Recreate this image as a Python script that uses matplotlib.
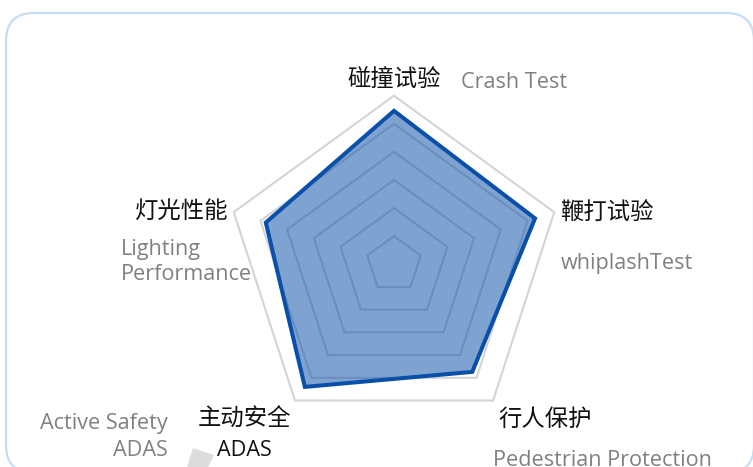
import numpy as np
import matplotlib
matplotlib.use('Agg')
import matplotlib.pyplot as plt
from matplotlib.patches import FancyBboxPatch, Polygon

plt.rcParams['font.family'] = ['Open Sans', 'Noto Sans CJK SC', 'DejaVu Sans']

# Radar data (score out of 100)
labels_cn = ['碰撞试验', '鞭打试验', '行人保护', '主动安全', '灯光性能']
labels_en = ['Crash Test', 'whiplashTest', 'Pedestrian Protection', 'ADAS', 'Lighting\nPerformance']
values = [91, 88, 79, 90, 80]
max_value = 100
n_levels = 6

LINE_COLOR = '#0a4fa8'
FILL_COLOR = '#0a4fa8'
GRID_COLOR = '#d4d4d4'
CN_COLOR = '#111111'
EN_COLOR = '#808080'

W, H = 753, 467
fig = plt.figure(figsize=(W / 100, H / 100), dpi=100)
ax = fig.add_axes([0, 0, 1, 1])
ax.set_xlim(0, W)
ax.set_ylim(H, 0)
ax.set_aspect('equal')
ax.axis('off')

# rounded card border
card = FancyBboxPatch((6, 13), 748, 460, boxstyle='round,pad=0,rounding_size=28',
                      fc='white', ec='#c6ddf2', lw=1.6, zorder=0)
ax.add_patch(card)

cx, cy = 394, 264.2
radius = 168.5
n = len(values)
angles = np.pi / 2 - np.arange(n) * 2 * np.pi / n


def to_xy(r):
    r = np.asarray(r, dtype=float)
    return cx + r * np.cos(angles), cy - r * np.sin(angles)


# grid pentagons
for lvl in range(1, n_levels + 1):
    gx, gy = to_xy(np.full(n, radius * lvl / n_levels))
    ax.add_patch(Polygon(np.column_stack([gx, gy]), closed=True, fill=False,
                         ec=GRID_COLOR, lw=1.5, zorder=1))

# data polygon
dx, dy = to_xy(np.array(values) / max_value * radius)
pts = np.column_stack([dx, dy])
ax.add_patch(Polygon(pts, closed=True, fc=FILL_COLOR, alpha=0.52, ec='none', zorder=2))
ax.add_patch(Polygon(pts, closed=True, fill=False, ec=LINE_COLOR, lw=2.9,
                     joinstyle='miter', zorder=3))

cn_fs = 16.8
en_fs = 15.6
dy_txt = 2  # baseline nudge

# labels
ax.text(394, 78 + dy_txt, labels_cn[0], fontsize=cn_fs, color=CN_COLOR, ha='center', va='center')
ax.text(461, 81 + dy_txt, labels_en[0], fontsize=en_fs, color=EN_COLOR, ha='left', va='center')

ax.text(560, 212 + dy_txt, labels_cn[1], fontsize=cn_fs, color=CN_COLOR, ha='left', va='center')
ax.text(561, 262 + dy_txt, labels_en[1], fontsize=en_fs, color=EN_COLOR, ha='left', va='center')

ax.text(498, 418 + dy_txt, labels_cn[2], fontsize=cn_fs, color=CN_COLOR, ha='left', va='center')
ax.text(493, 458 + dy_txt, labels_en[2], fontsize=en_fs, color=EN_COLOR, ha='left', va='center')

ax.text(244, 418 + dy_txt, labels_cn[3], fontsize=cn_fs, color=CN_COLOR, ha='center', va='center')
ax.text(244, 448 + dy_txt, labels_en[3], fontsize=en_fs, color=CN_COLOR, ha='center', va='center')
for line, y in zip(['Active Safety', 'ADAS'], [422, 448]):
    ax.text(168, y + dy_txt, line, fontsize=en_fs, color=EN_COLOR, ha='right', va='center')
ax.add_patch(Polygon([(193, 448), (214, 455), (208, 467), (187, 467)], closed=True,
                     fc='#dcdcdc', ec='none', zorder=1))

ax.text(228, 210 + dy_txt, labels_cn[4], fontsize=cn_fs, color=CN_COLOR, ha='right', va='center')
for line, y in zip(labels_en[4].split('\n'), [247, 272]):
    ax.text(121, y + dy_txt, line, fontsize=en_fs, color=EN_COLOR, ha='left', va='center')

fig.savefig('out.png', dpi=100)
